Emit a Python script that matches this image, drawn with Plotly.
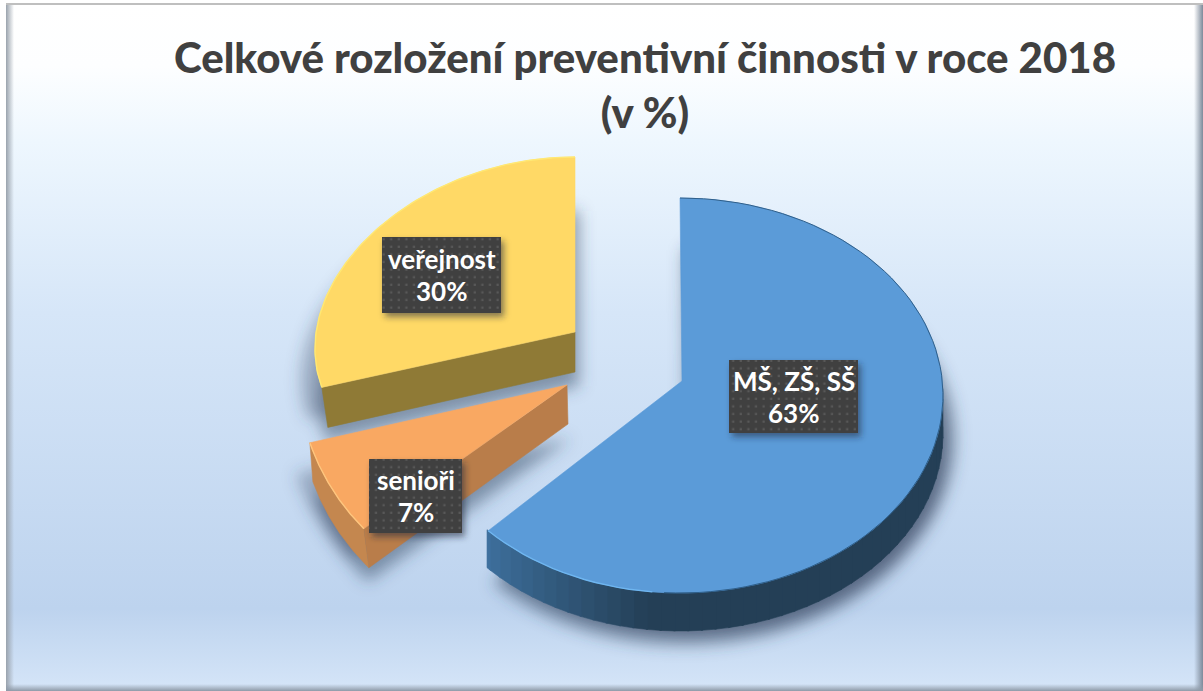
import base64, math
import numpy as np
import plotly.graph_objects as go

# ---- data ----
categories = ["MŠ, ZŠ, SŠ", "senioři", "veřejnost"]
shares = [63, 7, 30]
title_lines = ["Celkové rozložení preventivní činnosti v roce 2018", "(v %)"]

# ---- style ----
W, H = 1203, 691
top_colors = ["#5b9bd8", "#f9a862", "#ffd966"]
rim_colors = ["#6fb6f0", "#ffc67e", "#ffe873"]
face_colors = [None, "#b97d4a", "#8f7a36"]
DEPTH = [38, 39, 40]
# projected ellipse per slice: arc centre, radii, perspective widening, apex
GEOM = [
    dict(cx=680, cy=395.5, rx=263, ry=197.5, k=0.0, apex=(682, 381)),
    dict(cx=541, cy=372, rx=243, ry=229, k=0.0, apex=(567, 385)),
    dict(cx=575, cy=333, rx=259, ry=176, k=0.09, apex=(575, 332)),
]
BOXES = [(729, 360, 858, 433), (369, 459, 462, 533), (382, 237, 501, 313)]

# slice angles come from the shares
total = sum(shares)
edges = np.cumsum([0] + shares) / total * 360.0


def arc(i, a0, a1, n=90):
    g = GEOM[i]
    t = np.radians(np.linspace(a0, a1, n))
    x = g["cx"] + g["rx"] * np.sin(t) * (1 - g["k"] * np.cos(t))
    y = g["cy"] - g["ry"] * np.cos(t)
    return x, y


def top_poly(i):
    x, y = arc(i, edges[i], edges[i + 1])
    ax, ay = GEOM[i]["apex"]
    return np.r_[ax, x, ax], np.r_[ay, y, ay]


def lerp_hex(a, b, f):
    ca = [int(a[j:j + 2], 16) for j in (1, 3, 5)]
    cb = [int(b[j:j + 2], 16) for j in (1, 3, 5)]
    return "#" + "".join(f"{round(p + (q - p) * f):02x}" for p, q in zip(ca, cb))


def poly(x, y, color, name):
    return go.Scatter(x=list(x), y=list(y), mode="lines", fill="toself", fillcolor=color,
                      line=dict(width=0.6, color=color), name=name, hoverinfo="skip", showlegend=False)


def path(x, y, dy=0, dx=0):
    return "M" + " L".join(f"{a + dx:.1f},{b + dy:.1f}" for a, b in zip(x, y)) + " Z"


# ---- background picture: gradient, bevel, soft shadows derived from the slices ----
shadow_paths = ""
for i in range(3):
    x, y = top_poly(i)
    d = DEPTH[i]
    shadow_paths += f'<path d="{path(x, y, dy=d + 14, dx=4)}"/>'
    shadow_paths += f'<path d="{path(x, y, dy=d - 8, dx=-14)}" opacity="0.7"/>' if i else ""
    shadow_paths += f'<path d="{path(x, y, dy=d + 4, dx=12)}"/>' if i == 0 else ""

bg_svg = f'''<svg xmlns="http://www.w3.org/2000/svg" width="{W}" height="{H}" viewBox="0 0 {W} {H}">
<defs>
<linearGradient id="g" x1="0" y1="0" x2="0" y2="1">
<stop offset="0" stop-color="#ffffff"/><stop offset="0.09" stop-color="#fdfeff"/>
<stop offset="0.2" stop-color="#eef7fe"/><stop offset="0.45" stop-color="#d6e6f8"/>
<stop offset="0.88" stop-color="#bdd3ee"/><stop offset="1" stop-color="#d5e5f8"/>
</linearGradient>
<linearGradient id="l" x1="0" y1="0" x2="1" y2="0"><stop offset="0" stop-color="#9aa3ad"/><stop offset="1" stop-color="#9aa3ad" stop-opacity="0"/></linearGradient>
<linearGradient id="r" x1="0" y1="0" x2="1" y2="0"><stop offset="0" stop-color="#7d8a9a" stop-opacity="0"/><stop offset="1" stop-color="#7d8a9a"/></linearGradient>
<linearGradient id="b" x1="0" y1="0" x2="0" y2="1"><stop offset="0" stop-color="#8e9aa8" stop-opacity="0"/><stop offset="1" stop-color="#8e9aa8"/></linearGradient>
<filter id="blur" filterUnits="userSpaceOnUse" x="0" y="0" width="{W}" height="{H}"><feGaussianBlur stdDeviation="8"/></filter>
</defs>
<rect width="{W}" height="{H}" fill="#ffffff"/>
<rect x="6" y="4" width="{W - 6}" height="{H - 4}" fill="url(#g)"/>
<g fill="#34455f" fill-opacity="0.5" filter="url(#blur)">{shadow_paths}</g>
<rect x="6" y="4" width="8" height="{H - 4}" fill="url(#l)"/>
<rect x="{W - 9}" y="4" width="9" height="{H - 4}" fill="url(#r)"/>
<rect x="6" y="{H - 7}" width="{W - 6}" height="7" fill="url(#b)"/>
<rect x="6" y="3" width="{W - 6}" height="2" fill="#bfbfbf"/>
</svg>'''

# ---- label boxes: dark dotted plates with a soft shadow ----
box_rects = "".join(f'<rect x="{a}" y="{b}" width="{c - a}" height="{d - b}"/>' for a, b, c, d in BOXES)
box_svg = f'''<svg xmlns="http://www.w3.org/2000/svg" width="{W}" height="{H}" viewBox="0 0 {W} {H}">
<defs>
<pattern id="dots" width="7.6" height="7.6" patternUnits="userSpaceOnUse">
<rect x="2.5" y="2.5" width="2.2" height="2.2" fill="#ffffff" fill-opacity="0.13"/></pattern>
<filter id="s" filterUnits="userSpaceOnUse" x="0" y="0" width="{W}" height="{H}"><feGaussianBlur stdDeviation="3"/></filter>
</defs>
<g fill="#1c2a3c" fill-opacity="0.55" filter="url(#s)" transform="translate(3,4)">{box_rects}</g>
<g fill="#404040">{box_rects}</g><g fill="url(#dots)">{box_rects}</g>
</svg>'''


def data_uri(svg):
    return "data:image/svg+xml;base64," + base64.b64encode(svg.encode()).decode()


fig = go.Figure()

# blue rim, shaded by angle
a_vals = np.r_[np.arange(88, edges[1], 3.0), edges[1]]
for a0, a1 in zip(a_vals[:-1], a_vals[1:]):
    x, y = arc(0, a0, a1 + 0.4, 6)
    f = min(1, max(0, (a0 - 185) / (edges[1] - 185)))
    c = lerp_hex("#243f56", "#3e719f", f)
    fig.add_trace(poly(np.r_[x, x[::-1]], np.r_[y, y[::-1] + DEPTH[0]], c, categories[0]))

# senior faces: outer rim first, then the straight face over it
x, y = arc(1, edges[1], edges[2])
low_x = x + np.linspace(5, 3, len(x))
fig.add_trace(poly(np.r_[x, low_x[::-1]], np.r_[y, y[::-1] + DEPTH[1]], "#c4874f", categories[1]))
ax, ay = GEOM[1]["apex"]
fig.add_trace(poly([ax, ax + 1, low_x[0], x[0]], [ay, ay + DEPTH[1], y[0] + DEPTH[1], y[0]], face_colors[1], categories[1]))

# yellow face
x, y = arc(2, edges[2], edges[2] + 0.01, 2)
ax, ay = GEOM[2]["apex"]
fig.add_trace(poly([ax, ax, x[0] + 6, x[0]], [ay, ay + DEPTH[2], y[0] + DEPTH[2], y[0]], face_colors[2], categories[2]))

# top faces and bright rims
for i in [2, 1, 0]:
    x, y = top_poly(i)
    fig.add_trace(poly(x, y, top_colors[i], categories[i]))
    xr, yr = arc(i, edges[i], edges[i + 1])
    if i == 0:
        keep = np.linspace(edges[0], edges[1], len(xr)) > 185
        fig.add_trace(go.Scatter(x=list(xr[~keep]), y=list(yr[~keep]), mode="lines",
                                 line=dict(color="#2f5f8a", width=1.0), hoverinfo="skip", showlegend=False))
        xr, yr = xr[keep], yr[keep]
    fig.add_trace(go.Scatter(x=list(xr), y=list(yr), mode="lines", line=dict(color=rim_colors[i], width=1.4),
                             hoverinfo="skip", showlegend=False))

label_font = dict(family="Lato", size=26, weight=700, color="#ffffff")
annotations = []
for name, val, (a, b, c, d) in zip(categories, shares, BOXES):
    cx, cy = (a + c) / 2, (b + d) / 2
    annotations.append(dict(x=cx, y=cy - 16, text=name, showarrow=False, xref="x", yref="y", font=label_font))
    annotations.append(dict(x=cx, y=cy + 16, text=f"{val}%", showarrow=False, xref="x", yref="y", font=label_font))

fig.update_layout(
    width=W, height=H, margin=dict(l=0, r=0, t=0, b=0),
    paper_bgcolor="#ffffff", plot_bgcolor="rgba(0,0,0,0)", showlegend=False,
    title=dict(text="<br>".join(title_lines), x=645 / W, xanchor="center",
               y=1 - 73 / H, yanchor="middle", font=dict(family="Lato", size=42, weight=900, color="#404040")),
    xaxis=dict(range=[0, W], visible=False, fixedrange=True),
    yaxis=dict(range=[H, 0], visible=False, fixedrange=True),
    annotations=annotations,
    images=[
        dict(source=data_uri(bg_svg), xref="paper", yref="paper", x=0, y=1, sizex=1, sizey=1,
             xanchor="left", yanchor="top", sizing="stretch", layer="below"),
        dict(source=data_uri(box_svg), xref="paper", yref="paper", x=0, y=1, sizex=1, sizey=1,
             xanchor="left", yanchor="top", sizing="stretch", layer="above"),
    ],
)
fig.write_html("out.html", config=dict(displayModeBar=False),
               post_script="document.body.style.margin='0';document.body.style.overflow='hidden';")
